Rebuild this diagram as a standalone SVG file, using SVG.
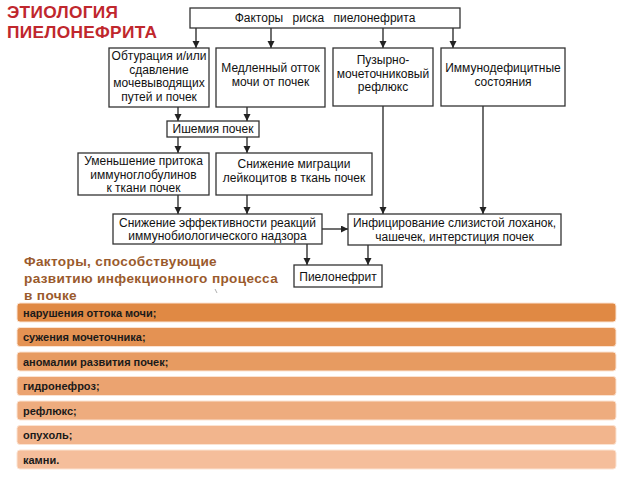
<svg xmlns="http://www.w3.org/2000/svg" width="640" height="480" viewBox="0 0 640 480">
<defs>
<marker id="ah" markerUnits="userSpaceOnUse" markerWidth="8" markerHeight="8" refX="7" refY="3.5" orient="auto">
<path d="M0,0 L7,3.5 L0,7 Z" fill="#222"/>
</marker>
<style>
.box{fill:#fff;stroke:#333;stroke-width:1.3}
.t{font-family:"Liberation Sans",Arial,sans-serif;font-size:12px;fill:#111;text-anchor:middle}
.c{stroke:#222;stroke-width:1.3;fill:none}
.ca{stroke:#222;stroke-width:1.3;fill:none;marker-end:url(#ah)}
.bar{stroke:#fbe3d2;stroke-width:1}
.bt{font-family:"Liberation Sans",Arial,sans-serif;font-size:11px;font-weight:bold;fill:#1a1a1a}
.title{font-family:"Liberation Sans",Arial,sans-serif;font-size:17.3px;font-weight:bold;fill:#c0272d;letter-spacing:0.3px}
.sub{font-family:"Liberation Sans",Arial,sans-serif;font-size:13.6px;font-weight:bold;fill:#9a5a2c;letter-spacing:0.35px}
</style>
</defs>
<rect width="640" height="480" fill="#fff"/>

<g id="title">
<text class="title" x="7" y="18">ЭТИОЛОГИЯ</text>
<text class="title" x="7" y="38">ПИЕЛОНЕФРИТА</text>
</g>

<g id="connectors">
<line class="ca" x1="196" y1="28" x2="196" y2="48"/>
<line class="ca" x1="271" y1="28" x2="271" y2="48"/>
<line class="ca" x1="383" y1="28" x2="383" y2="48"/>
<line class="ca" x1="453" y1="28" x2="453" y2="48"/>
<line class="ca" x1="178" y1="107" x2="178" y2="121"/>
<line class="ca" x1="247" y1="107" x2="247" y2="121"/>
<line class="ca" x1="178" y1="137" x2="178" y2="153"/>
<line class="ca" x1="247" y1="137" x2="247" y2="153"/>
<line class="ca" x1="178" y1="195" x2="178" y2="214"/>
<line class="ca" x1="247" y1="195" x2="247" y2="214"/>
<line class="ca" x1="383" y1="106" x2="383" y2="214"/>
<line class="ca" x1="483" y1="106" x2="483" y2="214"/>
<line class="ca" x1="322" y1="229" x2="348" y2="229"/>
<line class="ca" x1="307" y1="244" x2="307" y2="265"/>
<line class="ca" x1="368" y1="245" x2="368" y2="265"/>
</g>

<g id="n-top">
<rect class="box" x="190" y="8" width="270" height="20"/>
<text class="t" x="325" y="22" word-spacing="6">Факторы риска пиелонефрита</text>
</g>
<g id="n-obt">
<rect class="box" x="109" y="48" width="100" height="59"/>
<text class="t" x="159" y="60">Обтурация и/или</text>
<text class="t" x="159" y="73.5">сдавление</text>
<text class="t" x="159" y="87">мочевыводящих</text>
<text class="t" x="159" y="100.5">путей и почек</text>
</g>
<g id="n-slow">
<rect class="box" x="216" y="48" width="109" height="59"/>
<text class="t" x="270.5" y="72">Медленный отток</text>
<text class="t" x="270.5" y="86">мочи от почек</text>
</g>
<g id="n-reflux">
<rect class="box" x="333" y="48" width="100" height="58"/>
<text class="t" x="383" y="64">Пузырно-</text>
<text class="t" x="383" y="77.5">мочеточниковый</text>
<text class="t" x="383" y="91">рефлюкс</text>
</g>
<g id="n-immuno">
<rect class="box" x="441" y="48" width="124" height="58"/>
<text class="t" x="503" y="72">Иммунодефицитные</text>
<text class="t" x="503" y="85.5">состояния</text>
</g>
<g id="n-ischemia">
<rect class="box" x="167" y="121" width="92" height="16"/>
<text class="t" x="213" y="133">Ишемия почек</text>
</g>
<g id="n-ig">
<rect class="box" x="78" y="153" width="131" height="42"/>
<text class="t" x="143.5" y="165">Уменьшение притока</text>
<text class="t" x="143.5" y="178.5">иммуноглобулинов</text>
<text class="t" x="143.5" y="192">к ткани почек</text>
</g>
<g id="n-leuko">
<rect class="box" x="216" y="153" width="156" height="42"/>
<text class="t" x="294" y="168">Снижение миграции</text>
<text class="t" x="294" y="181.5">лейкоцитов в ткань почек</text>
</g>
<g id="n-eff">
<rect class="box" x="113" y="214" width="209" height="30"/>
<text class="t" x="217.5" y="227">Снижение эффективности реакций</text>
<text class="t" x="217.5" y="240">иммунобиологического надзора</text>
</g>
<g id="n-infect">
<rect class="box" x="348" y="214" width="213" height="31"/>
<text class="t" x="454.5" y="227">Инфицирование слизистой лоханок,</text>
<text class="t" x="454.5" y="241">чашечек, интерстиция почек</text>
</g>
<g id="n-pyelo">
<rect class="box" x="294" y="265" width="88" height="22"/>
<text class="t" x="338" y="280.5">Пиелонефрит</text>
</g>

<g id="subtitle">
<text class="sub" x="24" y="266">Факторы, способствующие</text>
<text class="sub" x="24" y="283">развитию инфекционного процесса</text>
<text class="sub" x="24" y="300">в почке</text>
<line x1="215" y1="289" x2="217" y2="293" stroke="#999" stroke-width="0.8"/>
</g>

<g id="list">
<rect class="bar" x="17" y="303" width="599" height="19" rx="3" fill="#e08944"/>
<text class="bt" x="23" y="316.5">нарушения оттока мочи;</text>
<rect class="bar" x="17" y="327.5" width="599" height="19" rx="3" fill="#e49253"/>
<text class="bt" x="23" y="341">сужения мочеточника;</text>
<rect class="bar" x="17" y="352" width="599" height="19" rx="3" fill="#e79b61"/>
<text class="bt" x="23" y="365.5">аномалии развития почек;</text>
<rect class="bar" x="17" y="376.5" width="599" height="19" rx="3" fill="#eba370"/>
<text class="bt" x="23" y="390">гидронефроз;</text>
<rect class="bar" x="17" y="401" width="599" height="19" rx="3" fill="#eeac7e"/>
<text class="bt" x="23" y="414.5">рефлюкс;</text>
<rect class="bar" x="17" y="425.5" width="599" height="19" rx="3" fill="#f2b58d"/>
<text class="bt" x="23" y="439">опухоль;</text>
<rect class="bar" x="17" y="450" width="599" height="19" rx="3" fill="#f5be9b"/>
<text class="bt" x="23" y="463.5">камни.</text>
</g>
</svg>
